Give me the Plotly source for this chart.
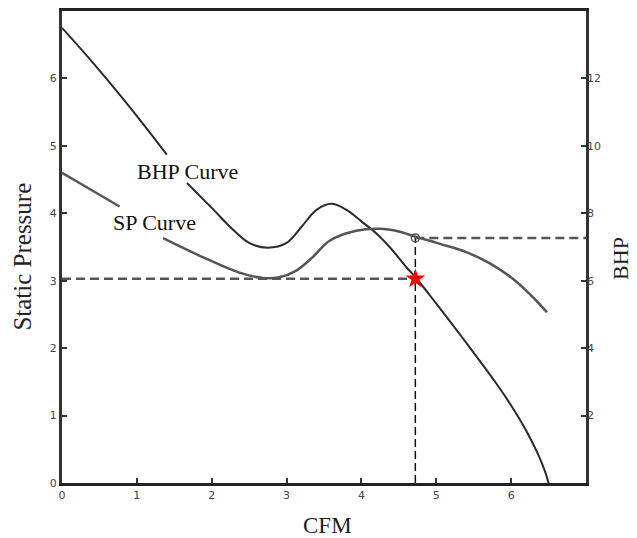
import plotly.graph_objects as go

# ---- data ----
# steep curve (labelled "BHP Curve"), left-axis units, gap where label sits
bhp_x = [0.0, 0.4, 0.8, 1.2, 1.4, None, 1.67, 2.0, 2.3, 2.5, 2.75, 3.0, 3.2, 3.4, 3.6, 3.8, 4.0, 4.2, 4.4, 4.6, 4.73, 5.0, 5.4, 5.8, 6.0, 6.2, 6.35, 6.45, 6.5]
bhp_y = [6.75, 6.25, 5.72, 5.16, 4.87, None, 4.45, 4.08, 3.74, 3.56, 3.49, 3.56, 3.8, 4.05, 4.14, 4.05, 3.88, 3.7, 3.47, 3.2, 3.04, 2.66, 2.08, 1.48, 1.15, 0.78, 0.45, 0.18, 0.0]

# flatter curve (labelled "SP Curve"), right-axis units, gap where label sits
sp_x = [0.0, 0.37, 0.77, None, 1.35, 1.84, 2.37, 2.68, 2.9, 3.13, 3.35, 3.57, 3.93, 4.24, 4.5, 4.73, 5.04, 5.4, 5.71, 6.01, 6.25, 6.48]
sp_y = [9.2, 8.72, 8.2, None, 7.26, 6.74, 6.24, 6.08, 6.1, 6.3, 6.7, 7.18, 7.48, 7.54, 7.46, 7.3, 7.1, 6.85, 6.52, 6.08, 5.6, 5.06]

op_cfm = 4.72
op_sp = 3.03
op_bhp = 7.27

x_ticks = [0, 1, 2, 3, 4, 5, 6]
left_ticks = [0, 1, 2, 3, 4, 5, 6]
right_ticks = [2, 4, 6, 8, 10, 12]

fig = go.Figure()

fig.add_trace(go.Scatter(x=bhp_x, y=bhp_y, mode="lines", line=dict(color="#2a2a2a", width=2, shape="spline"),
                         connectgaps=False, showlegend=False))
fig.add_trace(go.Scatter(x=sp_x, y=sp_y, mode="lines", yaxis="y2",
                         line=dict(color="#555555", width=2.5, shape="spline"),
                         connectgaps=False, showlegend=False))

# operating point guide lines
fig.add_trace(go.Scatter(x=[0, op_cfm], y=[op_sp, op_sp], mode="lines",
                         line=dict(color="#555555", width=2.5, dash="9px,5px"), showlegend=False))
fig.add_trace(go.Scatter(x=[op_cfm, op_cfm], y=[0, op_bhp / 2], mode="lines",
                         line=dict(color="#111111", width=1.5, dash="8px,4px"), showlegend=False))
fig.add_trace(go.Scatter(x=[op_cfm, 7], y=[op_bhp, op_bhp], mode="lines", yaxis="y2",
                         line=dict(color="#555555", width=2.5, dash="9px,5px"), showlegend=False))

fig.add_trace(go.Scatter(x=[op_cfm], y=[op_bhp], mode="markers", yaxis="y2",
                         marker=dict(symbol="circle-open", size=8, color="#555555", line=dict(width=1.5)),
                         showlegend=False))
fig.add_trace(go.Scatter(x=[op_cfm], y=[op_sp], mode="markers",
                         marker=dict(symbol="star", size=15, color="#ff0000"), showlegend=False))

tickfont = dict(family="DejaVu Sans", size=11, color="#444444")
serif = "Liberation Serif"

# page body adds an 8px offset, so the figure is 8px smaller than the window
fig.update_layout(
    width=629, height=530,
    margin=dict(l=54, r=51, t=0, b=55),
    paper_bgcolor="white", plot_bgcolor="white",
    xaxis=dict(range=[0, 7], tickvals=x_ticks, ticks="inside", ticklen=5, tickwidth=2, tickcolor="#333",
               showline=True, linewidth=3, linecolor="#222", mirror=True, showgrid=False, zeroline=False,
               tickfont=tickfont),
    yaxis=dict(range=[0, 7], tickvals=left_ticks, ticks="inside", ticklen=5, tickwidth=2, tickcolor="#333",
               showline=True, linewidth=3, linecolor="#333", mirror=True, showgrid=False, zeroline=False,
               tickfont=tickfont),
    yaxis2=dict(range=[0, 14], tickvals=right_ticks, overlaying="y", side="right", ticks="inside", ticklen=5,
                tickwidth=2, tickcolor="#333", showline=False, showgrid=False, zeroline=False, tickfont=tickfont),
)

fig.add_annotation(text="Static Pressure", xref="paper", yref="paper", x=-0.076, y=0.48, textangle=-90,
                   showarrow=False, font=dict(family=serif, size=25, color="#222"), xanchor="center", yanchor="middle")
fig.add_annotation(text="BHP", xref="paper", yref="paper", x=1.066, y=0.476, textangle=-90,
                   showarrow=False, font=dict(family=serif, size=22, color="#222"), xanchor="center", yanchor="middle")
fig.add_annotation(text="CFM", xref="paper", yref="paper", x=0.506, y=-0.09,
                   showarrow=False, font=dict(family=serif, size=23, color="#222"), xanchor="center", yanchor="middle")
fig.add_annotation(text="BHP Curve", x=1.67, y=4.62, showarrow=False,
                   font=dict(family=serif, size=22, color="#111"), xanchor="center", yanchor="middle")
fig.add_annotation(text="SP Curve", x=1.24, y=3.86, showarrow=False,
                   font=dict(family=serif, size=22, color="#111"), xanchor="center", yanchor="middle")

fig.write_html("out.html")
